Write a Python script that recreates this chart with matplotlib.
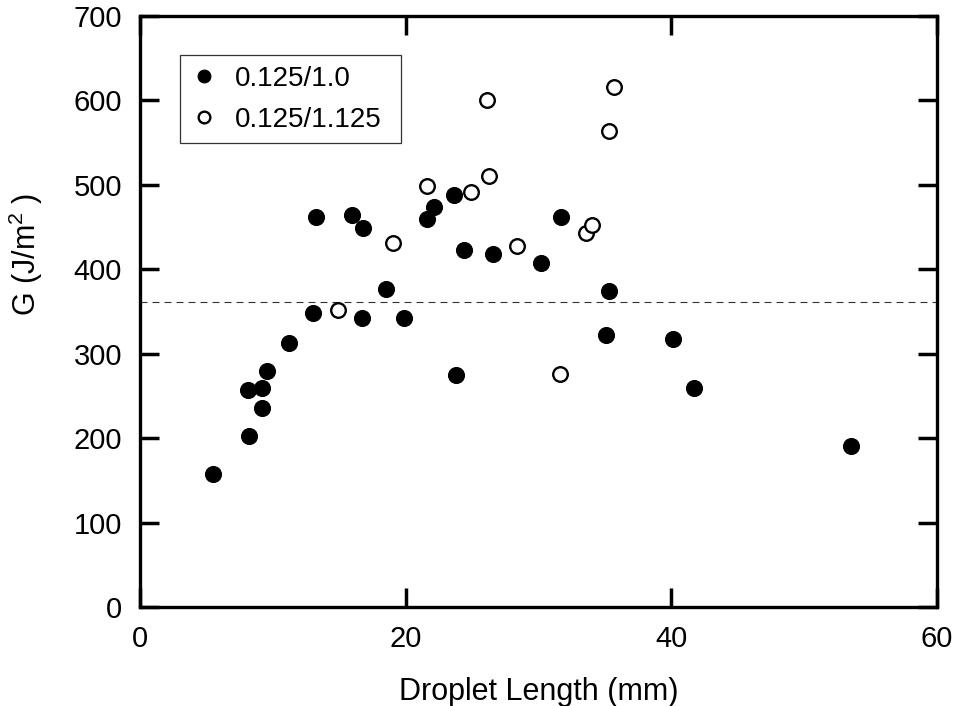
import matplotlib
matplotlib.use("Agg")
import matplotlib.pyplot as plt

# Droplet length (mm) and G (J/m^2)
len_10 = [5.5, 8.2, 8.15, 9.2, 9.15, 9.55, 11.2, 13.0, 13.25, 15.95, 16.75, 16.7, 18.55, 19.9,
          21.6, 22.1, 23.6, 23.8, 24.4, 26.6, 30.2, 31.7, 35.3, 35.1, 40.15, 41.7, 53.5]
g_10 = [158, 202, 257, 260, 236, 279, 313, 348, 462, 464, 449, 342, 377, 342,
        459, 474, 488, 275, 423, 418, 407, 462, 374, 322, 317, 259, 191]

len_1125 = [14.9, 19.05, 21.6, 24.95, 26.1, 26.3, 28.4, 31.6, 33.6, 34.0, 35.3, 35.65]
g_1125 = [352, 431, 499, 491, 601, 510, 428, 276, 443, 452, 564, 616]

g_ref = 361  # dashed reference level

x_ticks = [0, 20, 40, 60]
y_ticks = [0, 100, 200, 300, 400, 500, 600, 700]

plt.rcParams['font.family'] = ['Liberation Sans', 'DejaVu Sans']
plt.rcParams['mathtext.default'] = 'regular'

fig = plt.figure(figsize=(9.55, 7.06), dpi=100)
ax = fig.add_axes([0.1466, 0.1402, 0.8346, 0.8371])

ax.plot(len_10, g_10, linestyle='none', marker='o', markersize=11.5,
        markerfacecolor='black', markeredgecolor='black', markeredgewidth=0.8,
        label='0.125/1.0')
ax.plot(len_1125, g_1125, linestyle='none', marker='o', markersize=10.5,
        markerfacecolor='white', markeredgecolor='black', markeredgewidth=1.7,
        label='0.125/1.125')

ax.axhline(g_ref, color='#333333', linewidth=0.8, linestyle=(0, (6.3, 4.5)), zorder=1)

ax.set_xlim(0, 60)
ax.set_ylim(0, 700)
ax.set_xticks(x_ticks)
ax.set_yticks(y_ticks)

for s in ax.spines.values():
    s.set_linewidth(2.4)

ax.tick_params(axis='both', which='major', direction='in', length=13.5, width=2.5,
               labelsize=21, pad=13, top=True, right=True)

ax.set_xlabel('Droplet Length (mm)', fontsize=22)
ax.set_ylabel('G (J/m$^2$ )', fontsize=22)
ax.xaxis.set_label_coords(0.5, -0.118)
ax.yaxis.set_label_coords(-0.119, 0.596)

leg = ax.legend(loc='upper left', bbox_to_anchor=(0.0502, 0.5, 0.2773, 0.434),
                mode='expand', borderaxespad=0,
                fontsize=20, markerscale=0.8, handlelength=0.96, handletextpad=0.63,
                borderpad=0.38, labelspacing=0.55, fancybox=False, framealpha=1)
leg.get_frame().set_edgecolor('#333333')
leg.get_frame().set_linewidth(0.9)

fig.savefig('out.png', dpi=100)
